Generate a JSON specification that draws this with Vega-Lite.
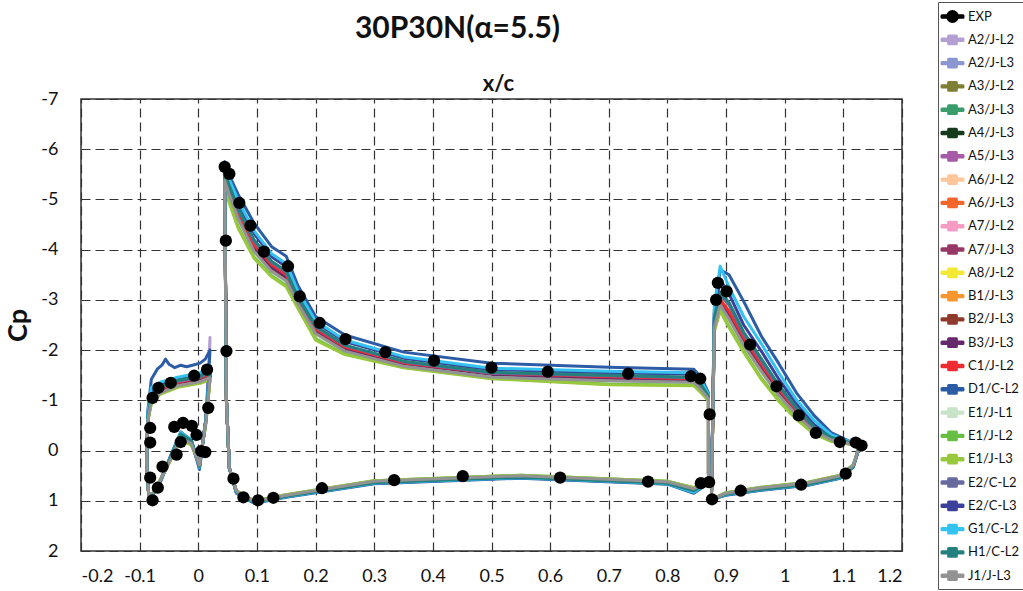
{
"$schema": "https://vega.github.io/schema/vega-lite/v6.json",
"width": 821, "height": 452,
"autosize": {"type": "none"},
"padding": {"left": 81, "top": 99, "right": 121, "bottom": 40},
"background": "white",
"title": {"text": "30P30N(α=5.5)", "font": "Lato", "fontSize": 30, "fontWeight": "bold", "color": "#111", "anchor": "middle", "dx": -34, "offset": -42},
"config": {
 "font": "Lato",
 "view": {"stroke": "#333", "strokeWidth": 1.5},
 "line": {"strokeWidth": 3, "strokeJoin": "round", "strokeCap": "round"},
 "axis": {"grid": true, "gridColor": "#333", "gridDash": [9, 5], "gridWidth": 1.2, "gridOpacity": 1, "domain": false, "ticks": false, "tickSize": 0, "labelFont": "Lato", "labelFontSize": 18, "labelColor": "#111", "titleFont": "Lato", "titleFontWeight": "bold", "titleColor": "#111"},
 "legend": {"padding": 6, "strokeColor": "#555", "fillColor": "white", "labelFont": "Lato", "labelFontSize": 13, "labelColor": "#111", "labelOffset": 7, "symbolSize": 196, "symbolStrokeWidth": 0.5, "rowPadding": 7.3, "symbolOpacity": 1}
},
"encoding": {
 "x": {"field": "x", "type": "quantitative", "scale": {"domain": [-0.2, 1.2], "nice": false, "zero": false}, "axis": {"values": [-0.2,-0.1,0,0.1,0.2,0.3,0.4,0.5,0.6,0.7,0.8,0.9,1,1.1,1.2], "labelExpr": "''+datum.value", "labelPadding": 16, "title": "x/c", "titleFontSize": 22, "titleX": 417, "titleY": -461, "titleBaseline": "alphabetic"}},
 "y": {"field": "y", "type": "quantitative", "scale": {"domain": [-7, 2], "reverse": true, "nice": false, "zero": false}, "axis": {"values": [-7,-6,-5,-4,-3,-2,-1,0,1,2], "labelExpr": "''+datum.value", "labelPadding": 23, "title": "Cp", "titleFontSize": 27, "titlePadding": 8}},
 "detail": {"field": "e"},
 "order": {"value": null}
},
"datasets": {
"A2/J-L2": [
{"e":"s","x":0.02,"y":-2.25},{"e":"s","x":0.018,"y":-1.46},{"e":"s","x":0.003,"y":-1.4},{"e":"s","x":-0.035,"y":-1.32},{"e":"s","x":-0.065,"y":-1.18},{"e":"s","x":-0.08,"y":-1},{"e":"s","x":-0.086,"y":-0.62},{"e":"s","x":-0.088,"y":0.25},{"e":"s","x":-0.084,"y":0.98},{"e":"s","x":-0.068,"y":0.68},{"e":"s","x":-0.048,"y":0.18},{"e":"s","x":-0.03,"y":-0.28},{"e":"s","x":-0.012,"y":-0.16},{"e":"s","x":0.002,"y":0.3},{"e":"s","x":0.013,"y":-0.6},{"e":"s","x":0.02,"y":-2.25},
{"e":"m","x":0.87,"y":-1.05},{"e":"m","x":0.858,"y":-1.24},{"e":"m","x":0.845,"y":-1.4},{"e":"m","x":0.7,"y":-1.44},{"e":"m","x":0.5,"y":-1.5},{"e":"m","x":0.35,"y":-1.72},{"e":"m","x":0.25,"y":-2.02},{"e":"m","x":0.2,"y":-2.38},{"e":"m","x":0.17,"y":-2.96},{"e":"m","x":0.15,"y":-3.45},{"e":"m","x":0.125,"y":-3.65},{"e":"m","x":0.095,"y":-4.05},{"e":"m","x":0.068,"y":-4.7},{"e":"m","x":0.052,"y":-5.2},{"e":"m","x":0.045,"y":-5.42},{"e":"m","x":0.048,"y":-1},{"e":"m","x":0.053,"y":0.35},{"e":"m","x":0.065,"y":0.82},{"e":"m","x":0.095,"y":1.02},{"e":"m","x":0.15,"y":0.9},{"e":"m","x":0.3,"y":0.62},{"e":"m","x":0.55,"y":0.51},{"e":"m","x":0.8,"y":0.63},{"e":"m","x":0.845,"y":0.77},{"e":"m","x":0.87,"y":0.62},{"e":"m","x":0.87,"y":-1.05},
{"e":"f","x":1.128,"y":-0.1},{"e":"f","x":1.11,"y":-0.15},{"e":"f","x":1.08,"y":-0.23},{"e":"f","x":1.05,"y":-0.42},{"e":"f","x":1.02,"y":-0.77},{"e":"f","x":0.99,"y":-1.18},{"e":"f","x":0.96,"y":-1.68},{"e":"f","x":0.93,"y":-2.2},{"e":"f","x":0.905,"y":-2.72},{"e":"f","x":0.89,"y":-2.93},{"e":"f","x":0.88,"y":-2.5},{"e":"f","x":0.875,"y":0.97},{"e":"f","x":0.9,"y":0.86},{"e":"f","x":0.96,"y":0.75},{"e":"f","x":1.04,"y":0.65},{"e":"f","x":1.095,"y":0.51},{"e":"f","x":1.117,"y":0.3},{"e":"f","x":1.128,"y":-0.1}],
"A2/J-L3": [
{"e":"s","x":0.02,"y":-1.48},{"e":"s","x":0.003,"y":-1.4},{"e":"s","x":-0.035,"y":-1.32},{"e":"s","x":-0.065,"y":-1.18},{"e":"s","x":-0.08,"y":-1},{"e":"s","x":-0.086,"y":-0.62},{"e":"s","x":-0.088,"y":0.25},{"e":"s","x":-0.084,"y":0.98},{"e":"s","x":-0.068,"y":0.68},{"e":"s","x":-0.048,"y":0.18},{"e":"s","x":-0.03,"y":-0.28},{"e":"s","x":-0.012,"y":-0.16},{"e":"s","x":0.002,"y":0.3},{"e":"s","x":0.013,"y":-0.6},{"e":"s","x":0.02,"y":-1.48},
{"e":"m","x":0.87,"y":-1.05},{"e":"m","x":0.858,"y":-1.24},{"e":"m","x":0.845,"y":-1.4},{"e":"m","x":0.7,"y":-1.44},{"e":"m","x":0.5,"y":-1.49},{"e":"m","x":0.35,"y":-1.72},{"e":"m","x":0.25,"y":-2.02},{"e":"m","x":0.2,"y":-2.38},{"e":"m","x":0.17,"y":-2.96},{"e":"m","x":0.15,"y":-3.45},{"e":"m","x":0.125,"y":-3.65},{"e":"m","x":0.095,"y":-4.05},{"e":"m","x":0.068,"y":-4.7},{"e":"m","x":0.052,"y":-5.2},{"e":"m","x":0.045,"y":-5.47},{"e":"m","x":0.048,"y":-1},{"e":"m","x":0.053,"y":0.35},{"e":"m","x":0.065,"y":0.82},{"e":"m","x":0.095,"y":1.02},{"e":"m","x":0.15,"y":0.9},{"e":"m","x":0.3,"y":0.62},{"e":"m","x":0.55,"y":0.51},{"e":"m","x":0.8,"y":0.63},{"e":"m","x":0.845,"y":0.77},{"e":"m","x":0.87,"y":0.62},{"e":"m","x":0.87,"y":-1.05},
{"e":"f","x":1.128,"y":-0.1},{"e":"f","x":1.11,"y":-0.15},{"e":"f","x":1.08,"y":-0.23},{"e":"f","x":1.05,"y":-0.42},{"e":"f","x":1.02,"y":-0.77},{"e":"f","x":0.99,"y":-1.18},{"e":"f","x":0.96,"y":-1.68},{"e":"f","x":0.93,"y":-2.2},{"e":"f","x":0.905,"y":-2.72},{"e":"f","x":0.89,"y":-2.96},{"e":"f","x":0.88,"y":-2.5},{"e":"f","x":0.875,"y":0.97},{"e":"f","x":0.9,"y":0.86},{"e":"f","x":0.96,"y":0.75},{"e":"f","x":1.04,"y":0.65},{"e":"f","x":1.095,"y":0.51},{"e":"f","x":1.117,"y":0.3},{"e":"f","x":1.128,"y":-0.1}],
"A3/J-L2": [
{"e":"s","x":0.02,"y":-1.45},{"e":"s","x":0.003,"y":-1.37},{"e":"s","x":-0.035,"y":-1.29},{"e":"s","x":-0.065,"y":-1.15},{"e":"s","x":-0.08,"y":-0.98},{"e":"s","x":-0.086,"y":-0.61},{"e":"s","x":-0.088,"y":0.25},{"e":"s","x":-0.084,"y":0.98},{"e":"s","x":-0.068,"y":0.67},{"e":"s","x":-0.048,"y":0.19},{"e":"s","x":-0.03,"y":-0.25},{"e":"s","x":-0.012,"y":-0.14},{"e":"s","x":0.002,"y":0.29},{"e":"s","x":0.013,"y":-0.58},{"e":"s","x":0.02,"y":-1.45},
{"e":"m","x":0.87,"y":-1.03},{"e":"m","x":0.858,"y":-1.2},{"e":"m","x":0.845,"y":-1.36},{"e":"m","x":0.7,"y":-1.39},{"e":"m","x":0.5,"y":-1.46},{"e":"m","x":0.35,"y":-1.68},{"e":"m","x":0.25,"y":-1.98},{"e":"m","x":0.2,"y":-2.33},{"e":"m","x":0.17,"y":-2.92},{"e":"m","x":0.15,"y":-3.38},{"e":"m","x":0.125,"y":-3.57},{"e":"m","x":0.095,"y":-3.97},{"e":"m","x":0.068,"y":-4.62},{"e":"m","x":0.052,"y":-5.12},{"e":"m","x":0.045,"y":-5.36},{"e":"m","x":0.048,"y":-1},{"e":"m","x":0.053,"y":0.35},{"e":"m","x":0.065,"y":0.81},{"e":"m","x":0.095,"y":1.01},{"e":"m","x":0.15,"y":0.89},{"e":"m","x":0.3,"y":0.61},{"e":"m","x":0.55,"y":0.5},{"e":"m","x":0.8,"y":0.62},{"e":"m","x":0.845,"y":0.76},{"e":"m","x":0.87,"y":0.61},{"e":"m","x":0.87,"y":-1.03},
{"e":"f","x":1.128,"y":-0.1},{"e":"f","x":1.11,"y":-0.14},{"e":"f","x":1.08,"y":-0.21},{"e":"f","x":1.05,"y":-0.38},{"e":"f","x":1.02,"y":-0.71},{"e":"f","x":0.99,"y":-1.1},{"e":"f","x":0.96,"y":-1.58},{"e":"f","x":0.93,"y":-2.1},{"e":"f","x":0.905,"y":-2.62},{"e":"f","x":0.89,"y":-2.88},{"e":"f","x":0.88,"y":-2.45},{"e":"f","x":0.875,"y":0.97},{"e":"f","x":0.9,"y":0.85},{"e":"f","x":0.96,"y":0.74},{"e":"f","x":1.04,"y":0.64},{"e":"f","x":1.095,"y":0.5},{"e":"f","x":1.117,"y":0.29},{"e":"f","x":1.128,"y":-0.1}],
"A3/J-L3": [
{"e":"s","x":0.02,"y":-1.48},{"e":"s","x":0.003,"y":-1.4},{"e":"s","x":-0.035,"y":-1.32},{"e":"s","x":-0.065,"y":-1.18},{"e":"s","x":-0.08,"y":-1},{"e":"s","x":-0.086,"y":-0.62},{"e":"s","x":-0.088,"y":0.25},{"e":"s","x":-0.084,"y":0.98},{"e":"s","x":-0.068,"y":0.68},{"e":"s","x":-0.048,"y":0.18},{"e":"s","x":-0.03,"y":-0.28},{"e":"s","x":-0.012,"y":-0.16},{"e":"s","x":0.002,"y":0.3},{"e":"s","x":0.013,"y":-0.6},{"e":"s","x":0.02,"y":-1.48},
{"e":"m","x":0.87,"y":-1.05},{"e":"m","x":0.858,"y":-1.24},{"e":"m","x":0.845,"y":-1.4},{"e":"m","x":0.7,"y":-1.44},{"e":"m","x":0.5,"y":-1.51},{"e":"m","x":0.35,"y":-1.72},{"e":"m","x":0.25,"y":-2.02},{"e":"m","x":0.2,"y":-2.38},{"e":"m","x":0.17,"y":-2.96},{"e":"m","x":0.15,"y":-3.45},{"e":"m","x":0.125,"y":-3.65},{"e":"m","x":0.095,"y":-4.05},{"e":"m","x":0.068,"y":-4.7},{"e":"m","x":0.052,"y":-5.2},{"e":"m","x":0.045,"y":-5.44},{"e":"m","x":0.048,"y":-1},{"e":"m","x":0.053,"y":0.35},{"e":"m","x":0.065,"y":0.82},{"e":"m","x":0.095,"y":1.02},{"e":"m","x":0.15,"y":0.9},{"e":"m","x":0.3,"y":0.62},{"e":"m","x":0.55,"y":0.51},{"e":"m","x":0.8,"y":0.63},{"e":"m","x":0.845,"y":0.77},{"e":"m","x":0.87,"y":0.62},{"e":"m","x":0.87,"y":-1.05},
{"e":"f","x":1.128,"y":-0.1},{"e":"f","x":1.11,"y":-0.15},{"e":"f","x":1.08,"y":-0.23},{"e":"f","x":1.05,"y":-0.42},{"e":"f","x":1.02,"y":-0.77},{"e":"f","x":0.99,"y":-1.18},{"e":"f","x":0.96,"y":-1.68},{"e":"f","x":0.93,"y":-2.2},{"e":"f","x":0.905,"y":-2.72},{"e":"f","x":0.89,"y":-2.97},{"e":"f","x":0.88,"y":-2.5},{"e":"f","x":0.875,"y":0.97},{"e":"f","x":0.9,"y":0.86},{"e":"f","x":0.96,"y":0.75},{"e":"f","x":1.04,"y":0.65},{"e":"f","x":1.095,"y":0.51},{"e":"f","x":1.117,"y":0.3},{"e":"f","x":1.128,"y":-0.1}],
"A4/J-L3": [
{"e":"s","x":0.02,"y":-1.48},{"e":"s","x":0.003,"y":-1.4},{"e":"s","x":-0.035,"y":-1.32},{"e":"s","x":-0.065,"y":-1.18},{"e":"s","x":-0.08,"y":-1},{"e":"s","x":-0.086,"y":-0.62},{"e":"s","x":-0.088,"y":0.25},{"e":"s","x":-0.084,"y":0.98},{"e":"s","x":-0.068,"y":0.68},{"e":"s","x":-0.048,"y":0.18},{"e":"s","x":-0.03,"y":-0.28},{"e":"s","x":-0.012,"y":-0.16},{"e":"s","x":0.002,"y":0.3},{"e":"s","x":0.013,"y":-0.6},{"e":"s","x":0.02,"y":-1.48},
{"e":"m","x":0.87,"y":-1.05},{"e":"m","x":0.858,"y":-1.24},{"e":"m","x":0.845,"y":-1.4},{"e":"m","x":0.7,"y":-1.44},{"e":"m","x":0.5,"y":-1.5},{"e":"m","x":0.35,"y":-1.72},{"e":"m","x":0.25,"y":-2.02},{"e":"m","x":0.2,"y":-2.38},{"e":"m","x":0.17,"y":-2.96},{"e":"m","x":0.15,"y":-3.45},{"e":"m","x":0.125,"y":-3.65},{"e":"m","x":0.095,"y":-4.05},{"e":"m","x":0.068,"y":-4.7},{"e":"m","x":0.052,"y":-5.2},{"e":"m","x":0.045,"y":-5.46},{"e":"m","x":0.048,"y":-1},{"e":"m","x":0.053,"y":0.35},{"e":"m","x":0.065,"y":0.82},{"e":"m","x":0.095,"y":1.02},{"e":"m","x":0.15,"y":0.9},{"e":"m","x":0.3,"y":0.62},{"e":"m","x":0.55,"y":0.51},{"e":"m","x":0.8,"y":0.63},{"e":"m","x":0.845,"y":0.77},{"e":"m","x":0.87,"y":0.62},{"e":"m","x":0.87,"y":-1.05},
{"e":"f","x":1.128,"y":-0.1},{"e":"f","x":1.11,"y":-0.15},{"e":"f","x":1.08,"y":-0.23},{"e":"f","x":1.05,"y":-0.42},{"e":"f","x":1.02,"y":-0.77},{"e":"f","x":0.99,"y":-1.18},{"e":"f","x":0.96,"y":-1.68},{"e":"f","x":0.93,"y":-2.2},{"e":"f","x":0.905,"y":-2.72},{"e":"f","x":0.89,"y":-2.94},{"e":"f","x":0.88,"y":-2.5},{"e":"f","x":0.875,"y":0.97},{"e":"f","x":0.9,"y":0.86},{"e":"f","x":0.96,"y":0.75},{"e":"f","x":1.04,"y":0.65},{"e":"f","x":1.095,"y":0.51},{"e":"f","x":1.117,"y":0.3},{"e":"f","x":1.128,"y":-0.1}],
"A5/J-L3": [
{"e":"s","x":0.02,"y":-1.48},{"e":"s","x":0.003,"y":-1.4},{"e":"s","x":-0.035,"y":-1.32},{"e":"s","x":-0.065,"y":-1.18},{"e":"s","x":-0.08,"y":-1},{"e":"s","x":-0.086,"y":-0.62},{"e":"s","x":-0.088,"y":0.25},{"e":"s","x":-0.084,"y":0.98},{"e":"s","x":-0.068,"y":0.68},{"e":"s","x":-0.048,"y":0.18},{"e":"s","x":-0.03,"y":-0.28},{"e":"s","x":-0.012,"y":-0.16},{"e":"s","x":0.002,"y":0.3},{"e":"s","x":0.013,"y":-0.6},{"e":"s","x":0.02,"y":-1.48},
{"e":"m","x":0.87,"y":-1.05},{"e":"m","x":0.858,"y":-1.24},{"e":"m","x":0.845,"y":-1.4},{"e":"m","x":0.7,"y":-1.44},{"e":"m","x":0.5,"y":-1.52},{"e":"m","x":0.35,"y":-1.72},{"e":"m","x":0.25,"y":-2.02},{"e":"m","x":0.2,"y":-2.38},{"e":"m","x":0.17,"y":-2.96},{"e":"m","x":0.15,"y":-3.45},{"e":"m","x":0.125,"y":-3.65},{"e":"m","x":0.095,"y":-4.05},{"e":"m","x":0.068,"y":-4.7},{"e":"m","x":0.052,"y":-5.2},{"e":"m","x":0.045,"y":-5.48},{"e":"m","x":0.048,"y":-1},{"e":"m","x":0.053,"y":0.35},{"e":"m","x":0.065,"y":0.82},{"e":"m","x":0.095,"y":1.02},{"e":"m","x":0.15,"y":0.9},{"e":"m","x":0.3,"y":0.62},{"e":"m","x":0.55,"y":0.51},{"e":"m","x":0.8,"y":0.63},{"e":"m","x":0.845,"y":0.77},{"e":"m","x":0.87,"y":0.62},{"e":"m","x":0.87,"y":-1.05},
{"e":"f","x":1.128,"y":-0.1},{"e":"f","x":1.11,"y":-0.15},{"e":"f","x":1.08,"y":-0.23},{"e":"f","x":1.05,"y":-0.42},{"e":"f","x":1.02,"y":-0.77},{"e":"f","x":0.99,"y":-1.18},{"e":"f","x":0.96,"y":-1.68},{"e":"f","x":0.93,"y":-2.2},{"e":"f","x":0.905,"y":-2.72},{"e":"f","x":0.89,"y":-2.98},{"e":"f","x":0.88,"y":-2.5},{"e":"f","x":0.875,"y":0.97},{"e":"f","x":0.9,"y":0.86},{"e":"f","x":0.96,"y":0.75},{"e":"f","x":1.04,"y":0.65},{"e":"f","x":1.095,"y":0.51},{"e":"f","x":1.117,"y":0.3},{"e":"f","x":1.128,"y":-0.1}],
"A6/J-L2": [
{"e":"s","x":0.02,"y":-1.48},{"e":"s","x":0.003,"y":-1.4},{"e":"s","x":-0.035,"y":-1.32},{"e":"s","x":-0.065,"y":-1.18},{"e":"s","x":-0.08,"y":-1},{"e":"s","x":-0.086,"y":-0.62},{"e":"s","x":-0.088,"y":0.25},{"e":"s","x":-0.084,"y":0.98},{"e":"s","x":-0.068,"y":0.68},{"e":"s","x":-0.048,"y":0.18},{"e":"s","x":-0.03,"y":-0.28},{"e":"s","x":-0.012,"y":-0.16},{"e":"s","x":0.002,"y":0.3},{"e":"s","x":0.013,"y":-0.6},{"e":"s","x":0.02,"y":-1.48},
{"e":"m","x":0.87,"y":-1.05},{"e":"m","x":0.858,"y":-1.24},{"e":"m","x":0.845,"y":-1.4},{"e":"m","x":0.7,"y":-1.44},{"e":"m","x":0.5,"y":-1.5},{"e":"m","x":0.35,"y":-1.72},{"e":"m","x":0.25,"y":-2.02},{"e":"m","x":0.2,"y":-2.38},{"e":"m","x":0.17,"y":-2.96},{"e":"m","x":0.15,"y":-3.45},{"e":"m","x":0.125,"y":-3.65},{"e":"m","x":0.095,"y":-4.05},{"e":"m","x":0.068,"y":-4.7},{"e":"m","x":0.052,"y":-5.2},{"e":"m","x":0.045,"y":-5.43},{"e":"m","x":0.048,"y":-1},{"e":"m","x":0.053,"y":0.35},{"e":"m","x":0.065,"y":0.82},{"e":"m","x":0.095,"y":1.02},{"e":"m","x":0.15,"y":0.9},{"e":"m","x":0.3,"y":0.62},{"e":"m","x":0.55,"y":0.51},{"e":"m","x":0.8,"y":0.63},{"e":"m","x":0.845,"y":0.77},{"e":"m","x":0.87,"y":0.62},{"e":"m","x":0.87,"y":-1.05},
{"e":"f","x":1.128,"y":-0.1},{"e":"f","x":1.11,"y":-0.15},{"e":"f","x":1.08,"y":-0.23},{"e":"f","x":1.05,"y":-0.42},{"e":"f","x":1.02,"y":-0.77},{"e":"f","x":0.99,"y":-1.18},{"e":"f","x":0.96,"y":-1.68},{"e":"f","x":0.93,"y":-2.2},{"e":"f","x":0.905,"y":-2.72},{"e":"f","x":0.89,"y":-2.92},{"e":"f","x":0.88,"y":-2.5},{"e":"f","x":0.875,"y":0.97},{"e":"f","x":0.9,"y":0.86},{"e":"f","x":0.96,"y":0.75},{"e":"f","x":1.04,"y":0.65},{"e":"f","x":1.095,"y":0.51},{"e":"f","x":1.117,"y":0.3},{"e":"f","x":1.128,"y":-0.1}],
"A6/J-L3": [
{"e":"s","x":0.02,"y":-1.52},{"e":"s","x":0.003,"y":-1.45},{"e":"s","x":-0.035,"y":-1.36},{"e":"s","x":-0.065,"y":-1.22},{"e":"s","x":-0.08,"y":-1.04},{"e":"s","x":-0.086,"y":-0.64},{"e":"s","x":-0.088,"y":0.25},{"e":"s","x":-0.084,"y":0.98},{"e":"s","x":-0.068,"y":0.68},{"e":"s","x":-0.048,"y":0.18},{"e":"s","x":-0.03,"y":-0.29},{"e":"s","x":-0.012,"y":-0.17},{"e":"s","x":0.002,"y":0.3},{"e":"s","x":0.013,"y":-0.6},{"e":"s","x":0.02,"y":-1.52},
{"e":"m","x":0.87,"y":-1.06},{"e":"m","x":0.858,"y":-1.27},{"e":"m","x":0.845,"y":-1.43},{"e":"m","x":0.7,"y":-1.47},{"e":"m","x":0.5,"y":-1.53},{"e":"m","x":0.35,"y":-1.75},{"e":"m","x":0.25,"y":-2.06},{"e":"m","x":0.2,"y":-2.42},{"e":"m","x":0.17,"y":-3},{"e":"m","x":0.15,"y":-3.5},{"e":"m","x":0.125,"y":-3.7},{"e":"m","x":0.095,"y":-4.1},{"e":"m","x":0.068,"y":-4.75},{"e":"m","x":0.052,"y":-5.25},{"e":"m","x":0.045,"y":-5.5},{"e":"m","x":0.048,"y":-1},{"e":"m","x":0.053,"y":0.35},{"e":"m","x":0.065,"y":0.82},{"e":"m","x":0.095,"y":1.02},{"e":"m","x":0.15,"y":0.9},{"e":"m","x":0.3,"y":0.62},{"e":"m","x":0.55,"y":0.51},{"e":"m","x":0.8,"y":0.63},{"e":"m","x":0.845,"y":0.77},{"e":"m","x":0.87,"y":0.62},{"e":"m","x":0.87,"y":-1.06},
{"e":"f","x":1.128,"y":-0.1},{"e":"f","x":1.11,"y":-0.15},{"e":"f","x":1.08,"y":-0.24},{"e":"f","x":1.05,"y":-0.44},{"e":"f","x":1.02,"y":-0.8},{"e":"f","x":0.99,"y":-1.22},{"e":"f","x":0.96,"y":-1.72},{"e":"f","x":0.93,"y":-2.25},{"e":"f","x":0.905,"y":-2.77},{"e":"f","x":0.89,"y":-3},{"e":"f","x":0.88,"y":-2.55},{"e":"f","x":0.875,"y":0.97},{"e":"f","x":0.9,"y":0.86},{"e":"f","x":0.96,"y":0.75},{"e":"f","x":1.04,"y":0.65},{"e":"f","x":1.095,"y":0.51},{"e":"f","x":1.117,"y":0.3},{"e":"f","x":1.128,"y":-0.1}],
"A7/J-L2": [
{"e":"s","x":0.02,"y":-1.48},{"e":"s","x":0.003,"y":-1.4},{"e":"s","x":-0.035,"y":-1.32},{"e":"s","x":-0.065,"y":-1.18},{"e":"s","x":-0.08,"y":-1},{"e":"s","x":-0.086,"y":-0.62},{"e":"s","x":-0.088,"y":0.25},{"e":"s","x":-0.084,"y":0.98},{"e":"s","x":-0.068,"y":0.68},{"e":"s","x":-0.048,"y":0.18},{"e":"s","x":-0.03,"y":-0.28},{"e":"s","x":-0.012,"y":-0.16},{"e":"s","x":0.002,"y":0.3},{"e":"s","x":0.013,"y":-0.6},{"e":"s","x":0.02,"y":-1.48},
{"e":"m","x":0.87,"y":-1.05},{"e":"m","x":0.858,"y":-1.24},{"e":"m","x":0.845,"y":-1.4},{"e":"m","x":0.7,"y":-1.44},{"e":"m","x":0.5,"y":-1.5},{"e":"m","x":0.35,"y":-1.73},{"e":"m","x":0.25,"y":-2.02},{"e":"m","x":0.2,"y":-2.38},{"e":"m","x":0.17,"y":-2.96},{"e":"m","x":0.15,"y":-3.45},{"e":"m","x":0.125,"y":-3.65},{"e":"m","x":0.095,"y":-4.05},{"e":"m","x":0.068,"y":-4.7},{"e":"m","x":0.052,"y":-5.2},{"e":"m","x":0.045,"y":-5.45},{"e":"m","x":0.048,"y":-1},{"e":"m","x":0.053,"y":0.35},{"e":"m","x":0.065,"y":0.82},{"e":"m","x":0.095,"y":1.02},{"e":"m","x":0.15,"y":0.9},{"e":"m","x":0.3,"y":0.62},{"e":"m","x":0.55,"y":0.51},{"e":"m","x":0.8,"y":0.63},{"e":"m","x":0.845,"y":0.77},{"e":"m","x":0.87,"y":0.62},{"e":"m","x":0.87,"y":-1.05},
{"e":"f","x":1.128,"y":-0.1},{"e":"f","x":1.11,"y":-0.15},{"e":"f","x":1.08,"y":-0.23},{"e":"f","x":1.05,"y":-0.42},{"e":"f","x":1.02,"y":-0.77},{"e":"f","x":0.99,"y":-1.18},{"e":"f","x":0.96,"y":-1.68},{"e":"f","x":0.93,"y":-2.2},{"e":"f","x":0.905,"y":-2.72},{"e":"f","x":0.89,"y":-2.95},{"e":"f","x":0.88,"y":-2.5},{"e":"f","x":0.875,"y":0.97},{"e":"f","x":0.9,"y":0.86},{"e":"f","x":0.96,"y":0.75},{"e":"f","x":1.04,"y":0.65},{"e":"f","x":1.095,"y":0.51},{"e":"f","x":1.117,"y":0.3},{"e":"f","x":1.128,"y":-0.1}],
"A7/J-L3": [
{"e":"s","x":0.02,"y":-1.48},{"e":"s","x":0.003,"y":-1.4},{"e":"s","x":-0.035,"y":-1.32},{"e":"s","x":-0.065,"y":-1.18},{"e":"s","x":-0.08,"y":-1},{"e":"s","x":-0.086,"y":-0.62},{"e":"s","x":-0.088,"y":0.25},{"e":"s","x":-0.084,"y":0.98},{"e":"s","x":-0.068,"y":0.68},{"e":"s","x":-0.048,"y":0.18},{"e":"s","x":-0.03,"y":-0.28},{"e":"s","x":-0.012,"y":-0.16},{"e":"s","x":0.002,"y":0.3},{"e":"s","x":0.013,"y":-0.6},{"e":"s","x":0.02,"y":-1.48},
{"e":"m","x":0.87,"y":-1.05},{"e":"m","x":0.858,"y":-1.24},{"e":"m","x":0.845,"y":-1.4},{"e":"m","x":0.7,"y":-1.44},{"e":"m","x":0.5,"y":-1.51},{"e":"m","x":0.35,"y":-1.72},{"e":"m","x":0.25,"y":-2.02},{"e":"m","x":0.2,"y":-2.38},{"e":"m","x":0.17,"y":-2.96},{"e":"m","x":0.15,"y":-3.45},{"e":"m","x":0.125,"y":-3.65},{"e":"m","x":0.095,"y":-4.05},{"e":"m","x":0.068,"y":-4.7},{"e":"m","x":0.052,"y":-5.2},{"e":"m","x":0.045,"y":-5.47},{"e":"m","x":0.048,"y":-1},{"e":"m","x":0.053,"y":0.35},{"e":"m","x":0.065,"y":0.82},{"e":"m","x":0.095,"y":1.02},{"e":"m","x":0.15,"y":0.9},{"e":"m","x":0.3,"y":0.62},{"e":"m","x":0.55,"y":0.51},{"e":"m","x":0.8,"y":0.63},{"e":"m","x":0.845,"y":0.77},{"e":"m","x":0.87,"y":0.62},{"e":"m","x":0.87,"y":-1.05},
{"e":"f","x":1.128,"y":-0.1},{"e":"f","x":1.11,"y":-0.15},{"e":"f","x":1.08,"y":-0.23},{"e":"f","x":1.05,"y":-0.42},{"e":"f","x":1.02,"y":-0.77},{"e":"f","x":0.99,"y":-1.18},{"e":"f","x":0.96,"y":-1.68},{"e":"f","x":0.93,"y":-2.2},{"e":"f","x":0.905,"y":-2.72},{"e":"f","x":0.89,"y":-2.97},{"e":"f","x":0.88,"y":-2.5},{"e":"f","x":0.875,"y":0.97},{"e":"f","x":0.9,"y":0.86},{"e":"f","x":0.96,"y":0.75},{"e":"f","x":1.04,"y":0.65},{"e":"f","x":1.095,"y":0.51},{"e":"f","x":1.117,"y":0.3},{"e":"f","x":1.128,"y":-0.1}],
"A8/J-L2": [
{"e":"s","x":0.02,"y":-1.45},{"e":"s","x":0.003,"y":-1.37},{"e":"s","x":-0.035,"y":-1.29},{"e":"s","x":-0.065,"y":-1.15},{"e":"s","x":-0.08,"y":-0.98},{"e":"s","x":-0.086,"y":-0.61},{"e":"s","x":-0.088,"y":0.25},{"e":"s","x":-0.084,"y":0.98},{"e":"s","x":-0.068,"y":0.67},{"e":"s","x":-0.048,"y":0.19},{"e":"s","x":-0.03,"y":-0.25},{"e":"s","x":-0.012,"y":-0.14},{"e":"s","x":0.002,"y":0.29},{"e":"s","x":0.013,"y":-0.58},{"e":"s","x":0.02,"y":-1.45},
{"e":"m","x":0.87,"y":-1.03},{"e":"m","x":0.858,"y":-1.2},{"e":"m","x":0.845,"y":-1.36},{"e":"m","x":0.7,"y":-1.39},{"e":"m","x":0.5,"y":-1.45},{"e":"m","x":0.35,"y":-1.68},{"e":"m","x":0.25,"y":-1.98},{"e":"m","x":0.2,"y":-2.33},{"e":"m","x":0.17,"y":-2.92},{"e":"m","x":0.15,"y":-3.38},{"e":"m","x":0.125,"y":-3.57},{"e":"m","x":0.095,"y":-3.97},{"e":"m","x":0.068,"y":-4.62},{"e":"m","x":0.052,"y":-5.12},{"e":"m","x":0.045,"y":-5.34},{"e":"m","x":0.048,"y":-1},{"e":"m","x":0.053,"y":0.35},{"e":"m","x":0.065,"y":0.81},{"e":"m","x":0.095,"y":1.01},{"e":"m","x":0.15,"y":0.89},{"e":"m","x":0.3,"y":0.61},{"e":"m","x":0.55,"y":0.5},{"e":"m","x":0.8,"y":0.62},{"e":"m","x":0.845,"y":0.76},{"e":"m","x":0.87,"y":0.61},{"e":"m","x":0.87,"y":-1.03},
{"e":"f","x":1.128,"y":-0.1},{"e":"f","x":1.11,"y":-0.14},{"e":"f","x":1.08,"y":-0.21},{"e":"f","x":1.05,"y":-0.38},{"e":"f","x":1.02,"y":-0.71},{"e":"f","x":0.99,"y":-1.1},{"e":"f","x":0.96,"y":-1.58},{"e":"f","x":0.93,"y":-2.1},{"e":"f","x":0.905,"y":-2.62},{"e":"f","x":0.89,"y":-2.86},{"e":"f","x":0.88,"y":-2.45},{"e":"f","x":0.875,"y":0.97},{"e":"f","x":0.9,"y":0.85},{"e":"f","x":0.96,"y":0.74},{"e":"f","x":1.04,"y":0.64},{"e":"f","x":1.095,"y":0.5},{"e":"f","x":1.117,"y":0.29},{"e":"f","x":1.128,"y":-0.1}],
"B1/J-L3": [
{"e":"s","x":0.02,"y":-1.52},{"e":"s","x":0.003,"y":-1.45},{"e":"s","x":-0.035,"y":-1.36},{"e":"s","x":-0.065,"y":-1.22},{"e":"s","x":-0.08,"y":-1.04},{"e":"s","x":-0.086,"y":-0.64},{"e":"s","x":-0.088,"y":0.25},{"e":"s","x":-0.084,"y":0.98},{"e":"s","x":-0.068,"y":0.68},{"e":"s","x":-0.048,"y":0.18},{"e":"s","x":-0.03,"y":-0.29},{"e":"s","x":-0.012,"y":-0.17},{"e":"s","x":0.002,"y":0.3},{"e":"s","x":0.013,"y":-0.6},{"e":"s","x":0.02,"y":-1.52},
{"e":"m","x":0.87,"y":-1.06},{"e":"m","x":0.858,"y":-1.27},{"e":"m","x":0.845,"y":-1.43},{"e":"m","x":0.7,"y":-1.47},{"e":"m","x":0.5,"y":-1.53},{"e":"m","x":0.35,"y":-1.75},{"e":"m","x":0.25,"y":-2.06},{"e":"m","x":0.2,"y":-2.42},{"e":"m","x":0.17,"y":-3},{"e":"m","x":0.15,"y":-3.5},{"e":"m","x":0.125,"y":-3.7},{"e":"m","x":0.095,"y":-4.1},{"e":"m","x":0.068,"y":-4.75},{"e":"m","x":0.052,"y":-5.25},{"e":"m","x":0.045,"y":-5.52},{"e":"m","x":0.048,"y":-1},{"e":"m","x":0.053,"y":0.35},{"e":"m","x":0.065,"y":0.82},{"e":"m","x":0.095,"y":1.02},{"e":"m","x":0.15,"y":0.9},{"e":"m","x":0.3,"y":0.62},{"e":"m","x":0.55,"y":0.51},{"e":"m","x":0.8,"y":0.63},{"e":"m","x":0.845,"y":0.77},{"e":"m","x":0.87,"y":0.62},{"e":"m","x":0.87,"y":-1.06},
{"e":"f","x":1.128,"y":-0.1},{"e":"f","x":1.11,"y":-0.15},{"e":"f","x":1.08,"y":-0.24},{"e":"f","x":1.05,"y":-0.44},{"e":"f","x":1.02,"y":-0.8},{"e":"f","x":0.99,"y":-1.22},{"e":"f","x":0.96,"y":-1.72},{"e":"f","x":0.93,"y":-2.25},{"e":"f","x":0.905,"y":-2.77},{"e":"f","x":0.89,"y":-3.02},{"e":"f","x":0.88,"y":-2.55},{"e":"f","x":0.875,"y":0.97},{"e":"f","x":0.9,"y":0.86},{"e":"f","x":0.96,"y":0.75},{"e":"f","x":1.04,"y":0.65},{"e":"f","x":1.095,"y":0.51},{"e":"f","x":1.117,"y":0.3},{"e":"f","x":1.128,"y":-0.1}],
"B2/J-L3": [
{"e":"s","x":0.02,"y":-1.48},{"e":"s","x":0.003,"y":-1.4},{"e":"s","x":-0.035,"y":-1.32},{"e":"s","x":-0.065,"y":-1.18},{"e":"s","x":-0.08,"y":-1},{"e":"s","x":-0.086,"y":-0.62},{"e":"s","x":-0.088,"y":0.25},{"e":"s","x":-0.084,"y":0.98},{"e":"s","x":-0.068,"y":0.68},{"e":"s","x":-0.048,"y":0.18},{"e":"s","x":-0.03,"y":-0.28},{"e":"s","x":-0.012,"y":-0.16},{"e":"s","x":0.002,"y":0.3},{"e":"s","x":0.013,"y":-0.6},{"e":"s","x":0.02,"y":-1.48},
{"e":"m","x":0.87,"y":-1.05},{"e":"m","x":0.858,"y":-1.24},{"e":"m","x":0.845,"y":-1.4},{"e":"m","x":0.7,"y":-1.44},{"e":"m","x":0.5,"y":-1.5},{"e":"m","x":0.35,"y":-1.72},{"e":"m","x":0.25,"y":-2.02},{"e":"m","x":0.2,"y":-2.38},{"e":"m","x":0.17,"y":-2.96},{"e":"m","x":0.15,"y":-3.45},{"e":"m","x":0.125,"y":-3.65},{"e":"m","x":0.095,"y":-4.05},{"e":"m","x":0.068,"y":-4.7},{"e":"m","x":0.052,"y":-5.2},{"e":"m","x":0.045,"y":-5.46},{"e":"m","x":0.048,"y":-1},{"e":"m","x":0.053,"y":0.35},{"e":"m","x":0.065,"y":0.82},{"e":"m","x":0.095,"y":1.02},{"e":"m","x":0.15,"y":0.9},{"e":"m","x":0.3,"y":0.62},{"e":"m","x":0.55,"y":0.51},{"e":"m","x":0.8,"y":0.63},{"e":"m","x":0.845,"y":0.77},{"e":"m","x":0.87,"y":0.62},{"e":"m","x":0.87,"y":-1.05},
{"e":"f","x":1.128,"y":-0.1},{"e":"f","x":1.11,"y":-0.15},{"e":"f","x":1.08,"y":-0.23},{"e":"f","x":1.05,"y":-0.42},{"e":"f","x":1.02,"y":-0.77},{"e":"f","x":0.99,"y":-1.18},{"e":"f","x":0.96,"y":-1.68},{"e":"f","x":0.93,"y":-2.2},{"e":"f","x":0.905,"y":-2.72},{"e":"f","x":0.89,"y":-2.96},{"e":"f","x":0.88,"y":-2.5},{"e":"f","x":0.875,"y":0.97},{"e":"f","x":0.9,"y":0.86},{"e":"f","x":0.96,"y":0.75},{"e":"f","x":1.04,"y":0.65},{"e":"f","x":1.095,"y":0.51},{"e":"f","x":1.117,"y":0.3},{"e":"f","x":1.128,"y":-0.1}],
"B3/J-L3": [
{"e":"s","x":0.02,"y":-1.48},{"e":"s","x":0.003,"y":-1.4},{"e":"s","x":-0.035,"y":-1.32},{"e":"s","x":-0.065,"y":-1.18},{"e":"s","x":-0.08,"y":-1},{"e":"s","x":-0.086,"y":-0.62},{"e":"s","x":-0.088,"y":0.25},{"e":"s","x":-0.084,"y":0.98},{"e":"s","x":-0.068,"y":0.68},{"e":"s","x":-0.048,"y":0.18},{"e":"s","x":-0.03,"y":-0.28},{"e":"s","x":-0.012,"y":-0.16},{"e":"s","x":0.002,"y":0.3},{"e":"s","x":0.013,"y":-0.6},{"e":"s","x":0.02,"y":-1.48},
{"e":"m","x":0.87,"y":-1.05},{"e":"m","x":0.858,"y":-1.24},{"e":"m","x":0.845,"y":-1.4},{"e":"m","x":0.7,"y":-1.44},{"e":"m","x":0.5,"y":-1.5},{"e":"m","x":0.35,"y":-1.72},{"e":"m","x":0.25,"y":-2.02},{"e":"m","x":0.2,"y":-2.38},{"e":"m","x":0.17,"y":-2.96},{"e":"m","x":0.15,"y":-3.45},{"e":"m","x":0.125,"y":-3.65},{"e":"m","x":0.095,"y":-4.05},{"e":"m","x":0.068,"y":-4.7},{"e":"m","x":0.052,"y":-5.2},{"e":"m","x":0.045,"y":-5.44},{"e":"m","x":0.048,"y":-1},{"e":"m","x":0.053,"y":0.35},{"e":"m","x":0.065,"y":0.82},{"e":"m","x":0.095,"y":1.02},{"e":"m","x":0.15,"y":0.9},{"e":"m","x":0.3,"y":0.62},{"e":"m","x":0.55,"y":0.51},{"e":"m","x":0.8,"y":0.63},{"e":"m","x":0.845,"y":0.77},{"e":"m","x":0.87,"y":0.62},{"e":"m","x":0.87,"y":-1.05},
{"e":"f","x":1.128,"y":-0.1},{"e":"f","x":1.11,"y":-0.15},{"e":"f","x":1.08,"y":-0.23},{"e":"f","x":1.05,"y":-0.42},{"e":"f","x":1.02,"y":-0.77},{"e":"f","x":0.99,"y":-1.18},{"e":"f","x":0.96,"y":-1.68},{"e":"f","x":0.93,"y":-2.2},{"e":"f","x":0.905,"y":-2.72},{"e":"f","x":0.89,"y":-2.94},{"e":"f","x":0.88,"y":-2.5},{"e":"f","x":0.875,"y":0.97},{"e":"f","x":0.9,"y":0.86},{"e":"f","x":0.96,"y":0.75},{"e":"f","x":1.04,"y":0.65},{"e":"f","x":1.095,"y":0.51},{"e":"f","x":1.117,"y":0.3},{"e":"f","x":1.128,"y":-0.1}],
"C1/J-L2": [
{"e":"s","x":0.02,"y":-1.52},{"e":"s","x":0.003,"y":-1.45},{"e":"s","x":-0.035,"y":-1.36},{"e":"s","x":-0.065,"y":-1.22},{"e":"s","x":-0.08,"y":-1.04},{"e":"s","x":-0.086,"y":-0.64},{"e":"s","x":-0.088,"y":0.25},{"e":"s","x":-0.084,"y":0.98},{"e":"s","x":-0.068,"y":0.68},{"e":"s","x":-0.048,"y":0.18},{"e":"s","x":-0.03,"y":-0.29},{"e":"s","x":-0.012,"y":-0.17},{"e":"s","x":0.002,"y":0.3},{"e":"s","x":0.013,"y":-0.6},{"e":"s","x":0.02,"y":-1.52},
{"e":"m","x":0.87,"y":-1.06},{"e":"m","x":0.858,"y":-1.27},{"e":"m","x":0.845,"y":-1.43},{"e":"m","x":0.7,"y":-1.47},{"e":"m","x":0.5,"y":-1.54},{"e":"m","x":0.35,"y":-1.75},{"e":"m","x":0.25,"y":-2.06},{"e":"m","x":0.2,"y":-2.42},{"e":"m","x":0.17,"y":-3},{"e":"m","x":0.15,"y":-3.5},{"e":"m","x":0.125,"y":-3.7},{"e":"m","x":0.095,"y":-4.1},{"e":"m","x":0.068,"y":-4.75},{"e":"m","x":0.052,"y":-5.25},{"e":"m","x":0.045,"y":-5.5},{"e":"m","x":0.048,"y":-1},{"e":"m","x":0.053,"y":0.35},{"e":"m","x":0.065,"y":0.82},{"e":"m","x":0.095,"y":1.02},{"e":"m","x":0.15,"y":0.9},{"e":"m","x":0.3,"y":0.62},{"e":"m","x":0.55,"y":0.51},{"e":"m","x":0.8,"y":0.63},{"e":"m","x":0.845,"y":0.77},{"e":"m","x":0.87,"y":0.62},{"e":"m","x":0.87,"y":-1.06},
{"e":"f","x":1.128,"y":-0.1},{"e":"f","x":1.11,"y":-0.15},{"e":"f","x":1.08,"y":-0.24},{"e":"f","x":1.05,"y":-0.44},{"e":"f","x":1.02,"y":-0.8},{"e":"f","x":0.99,"y":-1.22},{"e":"f","x":0.96,"y":-1.72},{"e":"f","x":0.93,"y":-2.25},{"e":"f","x":0.905,"y":-2.77},{"e":"f","x":0.89,"y":-3},{"e":"f","x":0.88,"y":-2.55},{"e":"f","x":0.875,"y":0.97},{"e":"f","x":0.9,"y":0.86},{"e":"f","x":0.96,"y":0.75},{"e":"f","x":1.04,"y":0.65},{"e":"f","x":1.095,"y":0.51},{"e":"f","x":1.117,"y":0.3},{"e":"f","x":1.128,"y":-0.1}],
"D1/C-L2": [
{"e":"s","x":0.02,"y":-2},{"e":"s","x":0.012,"y":-1.82},{"e":"s","x":0.003,"y":-1.74},{"e":"s","x":-0.01,"y":-1.7},{"e":"s","x":-0.02,"y":-1.67},{"e":"s","x":-0.03,"y":-1.7},{"e":"s","x":-0.04,"y":-1.65},{"e":"s","x":-0.05,"y":-1.72},{"e":"s","x":-0.056,"y":-1.82},{"e":"s","x":-0.062,"y":-1.7},{"e":"s","x":-0.07,"y":-1.62},{"e":"s","x":-0.08,"y":-1.42},{"e":"s","x":-0.086,"y":-0.8},{"e":"s","x":-0.088,"y":0.25},{"e":"s","x":-0.084,"y":0.98},{"e":"s","x":-0.068,"y":0.73},{"e":"s","x":-0.048,"y":0.13},{"e":"s","x":-0.03,"y":-0.37},{"e":"s","x":-0.012,"y":-0.2},{"e":"s","x":0.002,"y":0.38},{"e":"s","x":0.013,"y":-0.62},{"e":"s","x":0.02,"y":-2},
{"e":"m","x":0.87,"y":-1.15},{"e":"m","x":0.858,"y":-1.45},{"e":"m","x":0.845,"y":-1.62},{"e":"m","x":0.7,"y":-1.66},{"e":"m","x":0.5,"y":-1.74},{"e":"m","x":0.35,"y":-1.96},{"e":"m","x":0.25,"y":-2.3},{"e":"m","x":0.2,"y":-2.67},{"e":"m","x":0.17,"y":-3.28},{"e":"m","x":0.15,"y":-3.87},{"e":"m","x":0.125,"y":-4.06},{"e":"m","x":0.095,"y":-4.53},{"e":"m","x":0.068,"y":-5.1},{"e":"m","x":0.052,"y":-5.5},{"e":"m","x":0.045,"y":-5.75},{"e":"m","x":0.048,"y":-1},{"e":"m","x":0.053,"y":0.35},{"e":"m","x":0.065,"y":0.85},{"e":"m","x":0.095,"y":1.05},{"e":"m","x":0.15,"y":0.93},{"e":"m","x":0.3,"y":0.66},{"e":"m","x":0.55,"y":0.55},{"e":"m","x":0.8,"y":0.67},{"e":"m","x":0.845,"y":0.85},{"e":"m","x":0.87,"y":0.65},{"e":"m","x":0.87,"y":-1.15},
{"e":"f","x":1.128,"y":-0.09},{"e":"f","x":1.11,"y":-0.19},{"e":"f","x":1.08,"y":-0.35},{"e":"f","x":1.05,"y":-0.7},{"e":"f","x":1.02,"y":-1.15},{"e":"f","x":0.99,"y":-1.73},{"e":"f","x":0.96,"y":-2.28},{"e":"f","x":0.93,"y":-2.97},{"e":"f","x":0.905,"y":-3.5},{"e":"f","x":0.89,"y":-3.6},{"e":"f","x":0.88,"y":-2.8},{"e":"f","x":0.875,"y":0.97},{"e":"f","x":0.9,"y":0.89},{"e":"f","x":0.96,"y":0.79},{"e":"f","x":1.04,"y":0.69},{"e":"f","x":1.095,"y":0.55},{"e":"f","x":1.117,"y":0.33},{"e":"f","x":1.128,"y":-0.09}],
"E1/J-L1": [
{"e":"s","x":0.02,"y":-1.43},{"e":"s","x":0.003,"y":-1.36},{"e":"s","x":-0.035,"y":-1.28},{"e":"s","x":-0.065,"y":-1.14},{"e":"s","x":-0.08,"y":-0.96},{"e":"s","x":-0.086,"y":-0.6},{"e":"s","x":-0.088,"y":0.25},{"e":"s","x":-0.084,"y":0.98},{"e":"s","x":-0.068,"y":0.66},{"e":"s","x":-0.048,"y":0.2},{"e":"s","x":-0.03,"y":-0.23},{"e":"s","x":-0.012,"y":-0.13},{"e":"s","x":0.002,"y":0.28},{"e":"s","x":0.013,"y":-0.56},{"e":"s","x":0.02,"y":-1.43},
{"e":"m","x":0.87,"y":-1.01},{"e":"m","x":0.858,"y":-1.16},{"e":"m","x":0.845,"y":-1.31},{"e":"m","x":0.7,"y":-1.34},{"e":"m","x":0.5,"y":-1.46},{"e":"m","x":0.35,"y":-1.67},{"e":"m","x":0.25,"y":-1.94},{"e":"m","x":0.2,"y":-2.25},{"e":"m","x":0.17,"y":-2.87},{"e":"m","x":0.15,"y":-3.31},{"e":"m","x":0.125,"y":-3.51},{"e":"m","x":0.095,"y":-3.88},{"e":"m","x":0.068,"y":-4.49},{"e":"m","x":0.052,"y":-5.02},{"e":"m","x":0.045,"y":-5.24},{"e":"m","x":0.048,"y":-1},{"e":"m","x":0.053,"y":0.35},{"e":"m","x":0.065,"y":0.8},{"e":"m","x":0.095,"y":1},{"e":"m","x":0.15,"y":0.88},{"e":"m","x":0.3,"y":0.6},{"e":"m","x":0.55,"y":0.49},{"e":"m","x":0.8,"y":0.61},{"e":"m","x":0.845,"y":0.74},{"e":"m","x":0.87,"y":0.6},{"e":"m","x":0.87,"y":-1.01},
{"e":"f","x":1.128,"y":-0.1},{"e":"f","x":1.11,"y":-0.13},{"e":"f","x":1.08,"y":-0.19},{"e":"f","x":1.05,"y":-0.35},{"e":"f","x":1.02,"y":-0.65},{"e":"f","x":0.99,"y":-1.02},{"e":"f","x":0.96,"y":-1.46},{"e":"f","x":0.93,"y":-2},{"e":"f","x":0.905,"y":-2.5},{"e":"f","x":0.89,"y":-2.84},{"e":"f","x":0.88,"y":-2.42},{"e":"f","x":0.875,"y":0.97},{"e":"f","x":0.9,"y":0.84},{"e":"f","x":0.96,"y":0.73},{"e":"f","x":1.04,"y":0.63},{"e":"f","x":1.095,"y":0.49},{"e":"f","x":1.117,"y":0.28},{"e":"f","x":1.128,"y":-0.1}],
"E1/J-L2": [
{"e":"s","x":0.02,"y":-1.42},{"e":"s","x":0.003,"y":-1.35},{"e":"s","x":-0.035,"y":-1.27},{"e":"s","x":-0.065,"y":-1.13},{"e":"s","x":-0.08,"y":-0.95},{"e":"s","x":-0.086,"y":-0.6},{"e":"s","x":-0.088,"y":0.25},{"e":"s","x":-0.084,"y":0.98},{"e":"s","x":-0.068,"y":0.66},{"e":"s","x":-0.048,"y":0.2},{"e":"s","x":-0.03,"y":-0.22},{"e":"s","x":-0.012,"y":-0.12},{"e":"s","x":0.002,"y":0.28},{"e":"s","x":0.013,"y":-0.55},{"e":"s","x":0.02,"y":-1.42},
{"e":"m","x":0.87,"y":-1},{"e":"m","x":0.858,"y":-1.15},{"e":"m","x":0.845,"y":-1.3},{"e":"m","x":0.7,"y":-1.32},{"e":"m","x":0.5,"y":-1.44},{"e":"m","x":0.35,"y":-1.66},{"e":"m","x":0.25,"y":-1.92},{"e":"m","x":0.2,"y":-2.22},{"e":"m","x":0.17,"y":-2.85},{"e":"m","x":0.15,"y":-3.28},{"e":"m","x":0.125,"y":-3.48},{"e":"m","x":0.095,"y":-3.85},{"e":"m","x":0.068,"y":-4.45},{"e":"m","x":0.052,"y":-4.98},{"e":"m","x":0.045,"y":-5.2},{"e":"m","x":0.048,"y":-1},{"e":"m","x":0.053,"y":0.35},{"e":"m","x":0.065,"y":0.8},{"e":"m","x":0.095,"y":1},{"e":"m","x":0.15,"y":0.88},{"e":"m","x":0.3,"y":0.6},{"e":"m","x":0.55,"y":0.49},{"e":"m","x":0.8,"y":0.61},{"e":"m","x":0.845,"y":0.74},{"e":"m","x":0.87,"y":0.6},{"e":"m","x":0.87,"y":-1},
{"e":"f","x":1.128,"y":-0.1},{"e":"f","x":1.11,"y":-0.13},{"e":"f","x":1.08,"y":-0.19},{"e":"f","x":1.05,"y":-0.34},{"e":"f","x":1.02,"y":-0.64},{"e":"f","x":0.99,"y":-1},{"e":"f","x":0.96,"y":-1.44},{"e":"f","x":0.93,"y":-1.98},{"e":"f","x":0.905,"y":-2.47},{"e":"f","x":0.89,"y":-2.8},{"e":"f","x":0.88,"y":-2.4},{"e":"f","x":0.875,"y":0.97},{"e":"f","x":0.9,"y":0.84},{"e":"f","x":0.96,"y":0.73},{"e":"f","x":1.04,"y":0.63},{"e":"f","x":1.095,"y":0.49},{"e":"f","x":1.117,"y":0.28},{"e":"f","x":1.128,"y":-0.1}],
"E1/J-L3": [
{"e":"s","x":0.02,"y":-1.41},{"e":"s","x":0.003,"y":-1.34},{"e":"s","x":-0.035,"y":-1.26},{"e":"s","x":-0.065,"y":-1.12},{"e":"s","x":-0.08,"y":-0.94},{"e":"s","x":-0.086,"y":-0.59},{"e":"s","x":-0.088,"y":0.25},{"e":"s","x":-0.084,"y":0.98},{"e":"s","x":-0.068,"y":0.65},{"e":"s","x":-0.048,"y":0.21},{"e":"s","x":-0.03,"y":-0.21},{"e":"s","x":-0.012,"y":-0.11},{"e":"s","x":0.002,"y":0.27},{"e":"s","x":0.013,"y":-0.54},{"e":"s","x":0.02,"y":-1.41},
{"e":"m","x":0.87,"y":-0.99},{"e":"m","x":0.858,"y":-1.14},{"e":"m","x":0.845,"y":-1.29},{"e":"m","x":0.7,"y":-1.31},{"e":"m","x":0.5,"y":-1.43},{"e":"m","x":0.35,"y":-1.65},{"e":"m","x":0.25,"y":-1.91},{"e":"m","x":0.2,"y":-2.2},{"e":"m","x":0.17,"y":-2.83},{"e":"m","x":0.15,"y":-3.26},{"e":"m","x":0.125,"y":-3.46},{"e":"m","x":0.095,"y":-3.83},{"e":"m","x":0.068,"y":-4.43},{"e":"m","x":0.052,"y":-4.96},{"e":"m","x":0.045,"y":-5.18},{"e":"m","x":0.048,"y":-1},{"e":"m","x":0.053,"y":0.35},{"e":"m","x":0.065,"y":0.8},{"e":"m","x":0.095,"y":1},{"e":"m","x":0.15,"y":0.88},{"e":"m","x":0.3,"y":0.6},{"e":"m","x":0.55,"y":0.49},{"e":"m","x":0.8,"y":0.61},{"e":"m","x":0.845,"y":0.74},{"e":"m","x":0.87,"y":0.6},{"e":"m","x":0.87,"y":-0.99},
{"e":"f","x":1.128,"y":-0.1},{"e":"f","x":1.11,"y":-0.13},{"e":"f","x":1.08,"y":-0.18},{"e":"f","x":1.05,"y":-0.33},{"e":"f","x":1.02,"y":-0.62},{"e":"f","x":0.99,"y":-0.98},{"e":"f","x":0.96,"y":-1.42},{"e":"f","x":0.93,"y":-1.96},{"e":"f","x":0.905,"y":-2.45},{"e":"f","x":0.89,"y":-2.78},{"e":"f","x":0.88,"y":-2.38},{"e":"f","x":0.875,"y":0.97},{"e":"f","x":0.9,"y":0.84},{"e":"f","x":0.96,"y":0.73},{"e":"f","x":1.04,"y":0.63},{"e":"f","x":1.095,"y":0.49},{"e":"f","x":1.117,"y":0.28},{"e":"f","x":1.128,"y":-0.1}],
"E2/C-L2": [
{"e":"s","x":0.02,"y":-1.55},{"e":"s","x":0.003,"y":-1.46},{"e":"s","x":-0.035,"y":-1.38},{"e":"s","x":-0.065,"y":-1.25},{"e":"s","x":-0.08,"y":-1.08},{"e":"s","x":-0.086,"y":-0.65},{"e":"s","x":-0.088,"y":0.25},{"e":"s","x":-0.084,"y":0.98},{"e":"s","x":-0.068,"y":0.7},{"e":"s","x":-0.048,"y":0.15},{"e":"s","x":-0.03,"y":-0.32},{"e":"s","x":-0.012,"y":-0.19},{"e":"s","x":0.002,"y":0.32},{"e":"s","x":0.013,"y":-0.61},{"e":"s","x":0.02,"y":-1.55},
{"e":"m","x":0.87,"y":-1.07},{"e":"m","x":0.858,"y":-1.29},{"e":"m","x":0.845,"y":-1.45},{"e":"m","x":0.7,"y":-1.49},{"e":"m","x":0.5,"y":-1.54},{"e":"m","x":0.35,"y":-1.77},{"e":"m","x":0.25,"y":-2.09},{"e":"m","x":0.2,"y":-2.46},{"e":"m","x":0.17,"y":-3.03},{"e":"m","x":0.15,"y":-3.55},{"e":"m","x":0.125,"y":-3.75},{"e":"m","x":0.095,"y":-4.17},{"e":"m","x":0.068,"y":-4.8},{"e":"m","x":0.052,"y":-5.28},{"e":"m","x":0.045,"y":-5.52},{"e":"m","x":0.048,"y":-1},{"e":"m","x":0.053,"y":0.35},{"e":"m","x":0.065,"y":0.83},{"e":"m","x":0.095,"y":1.03},{"e":"m","x":0.15,"y":0.91},{"e":"m","x":0.3,"y":0.64},{"e":"m","x":0.55,"y":0.53},{"e":"m","x":0.8,"y":0.65},{"e":"m","x":0.845,"y":0.8},{"e":"m","x":0.87,"y":0.63},{"e":"m","x":0.87,"y":-1.07},
{"e":"f","x":1.128,"y":-0.1},{"e":"f","x":1.11,"y":-0.16},{"e":"f","x":1.08,"y":-0.25},{"e":"f","x":1.05,"y":-0.46},{"e":"f","x":1.02,"y":-0.83},{"e":"f","x":0.99,"y":-1.27},{"e":"f","x":0.96,"y":-1.79},{"e":"f","x":0.93,"y":-2.32},{"e":"f","x":0.905,"y":-2.9},{"e":"f","x":0.89,"y":-3.1},{"e":"f","x":0.88,"y":-2.62},{"e":"f","x":0.875,"y":0.97},{"e":"f","x":0.9,"y":0.87},{"e":"f","x":0.96,"y":0.77},{"e":"f","x":1.04,"y":0.67},{"e":"f","x":1.095,"y":0.53},{"e":"f","x":1.117,"y":0.31},{"e":"f","x":1.128,"y":-0.1}],
"E2/C-L3": [
{"e":"s","x":0.02,"y":-1.62},{"e":"s","x":0.003,"y":-1.52},{"e":"s","x":-0.035,"y":-1.44},{"e":"s","x":-0.065,"y":-1.32},{"e":"s","x":-0.08,"y":-1.18},{"e":"s","x":-0.086,"y":-0.7},{"e":"s","x":-0.088,"y":0.25},{"e":"s","x":-0.084,"y":0.98},{"e":"s","x":-0.068,"y":0.7},{"e":"s","x":-0.048,"y":0.14},{"e":"s","x":-0.03,"y":-0.35},{"e":"s","x":-0.012,"y":-0.21},{"e":"s","x":0.002,"y":0.33},{"e":"s","x":0.013,"y":-0.63},{"e":"s","x":0.02,"y":-1.62},
{"e":"m","x":0.87,"y":-1.1},{"e":"m","x":0.858,"y":-1.35},{"e":"m","x":0.845,"y":-1.52},{"e":"m","x":0.7,"y":-1.55},{"e":"m","x":0.5,"y":-1.61},{"e":"m","x":0.35,"y":-1.84},{"e":"m","x":0.25,"y":-2.17},{"e":"m","x":0.2,"y":-2.55},{"e":"m","x":0.17,"y":-3.12},{"e":"m","x":0.15,"y":-3.66},{"e":"m","x":0.125,"y":-3.86},{"e":"m","x":0.095,"y":-4.32},{"e":"m","x":0.068,"y":-4.92},{"e":"m","x":0.052,"y":-5.36},{"e":"m","x":0.045,"y":-5.6},{"e":"m","x":0.048,"y":-1},{"e":"m","x":0.053,"y":0.35},{"e":"m","x":0.065,"y":0.84},{"e":"m","x":0.095,"y":1.04},{"e":"m","x":0.15,"y":0.92},{"e":"m","x":0.3,"y":0.65},{"e":"m","x":0.55,"y":0.54},{"e":"m","x":0.8,"y":0.66},{"e":"m","x":0.845,"y":0.82},{"e":"m","x":0.87,"y":0.64},{"e":"m","x":0.87,"y":-1.1},
{"e":"f","x":1.128,"y":-0.1},{"e":"f","x":1.11,"y":-0.17},{"e":"f","x":1.08,"y":-0.28},{"e":"f","x":1.05,"y":-0.52},{"e":"f","x":1.02,"y":-0.93},{"e":"f","x":0.99,"y":-1.42},{"e":"f","x":0.96,"y":-1.98},{"e":"f","x":0.93,"y":-2.5},{"e":"f","x":0.905,"y":-3.12},{"e":"f","x":0.89,"y":-3.4},{"e":"f","x":0.88,"y":-2.75},{"e":"f","x":0.875,"y":0.97},{"e":"f","x":0.9,"y":0.88},{"e":"f","x":0.96,"y":0.78},{"e":"f","x":1.04,"y":0.68},{"e":"f","x":1.095,"y":0.54},{"e":"f","x":1.117,"y":0.32},{"e":"f","x":1.128,"y":-0.1}],
"G1/C-L2": [
{"e":"s","x":0.02,"y":-1.7},{"e":"s","x":0.003,"y":-1.55},{"e":"s","x":-0.035,"y":-1.46},{"e":"s","x":-0.065,"y":-1.36},{"e":"s","x":-0.08,"y":-1.26},{"e":"s","x":-0.086,"y":-0.75},{"e":"s","x":-0.088,"y":0.25},{"e":"s","x":-0.084,"y":0.98},{"e":"s","x":-0.068,"y":0.71},{"e":"s","x":-0.048,"y":0.14},{"e":"s","x":-0.03,"y":-0.36},{"e":"s","x":-0.012,"y":-0.22},{"e":"s","x":0.002,"y":0.34},{"e":"s","x":0.013,"y":-0.64},{"e":"s","x":0.02,"y":-1.7},
{"e":"m","x":0.87,"y":-1.12},{"e":"m","x":0.858,"y":-1.38},{"e":"m","x":0.845,"y":-1.55},{"e":"m","x":0.7,"y":-1.58},{"e":"m","x":0.5,"y":-1.64},{"e":"m","x":0.35,"y":-1.87},{"e":"m","x":0.25,"y":-2.2},{"e":"m","x":0.2,"y":-2.58},{"e":"m","x":0.17,"y":-3.17},{"e":"m","x":0.15,"y":-3.72},{"e":"m","x":0.125,"y":-3.92},{"e":"m","x":0.095,"y":-4.38},{"e":"m","x":0.068,"y":-4.98},{"e":"m","x":0.052,"y":-5.42},{"e":"m","x":0.045,"y":-5.66},{"e":"m","x":0.048,"y":-1},{"e":"m","x":0.053,"y":0.35},{"e":"m","x":0.065,"y":0.84},{"e":"m","x":0.095,"y":1.04},{"e":"m","x":0.15,"y":0.92},{"e":"m","x":0.3,"y":0.65},{"e":"m","x":0.55,"y":0.54},{"e":"m","x":0.8,"y":0.66},{"e":"m","x":0.845,"y":0.83},{"e":"m","x":0.87,"y":0.64},{"e":"m","x":0.87,"y":-1.12},
{"e":"f","x":1.128,"y":-0.1},{"e":"f","x":1.11,"y":-0.18},{"e":"f","x":1.08,"y":-0.31},{"e":"f","x":1.05,"y":-0.6},{"e":"f","x":1.02,"y":-1.01},{"e":"f","x":0.99,"y":-1.55},{"e":"f","x":0.96,"y":-2.13},{"e":"f","x":0.93,"y":-2.67},{"e":"f","x":0.905,"y":-3.26},{"e":"f","x":0.89,"y":-3.67},{"e":"f","x":0.88,"y":-2.9},{"e":"f","x":0.875,"y":0.97},{"e":"f","x":0.9,"y":0.88},{"e":"f","x":0.96,"y":0.78},{"e":"f","x":1.04,"y":0.68},{"e":"f","x":1.095,"y":0.54},{"e":"f","x":1.117,"y":0.32},{"e":"f","x":1.128,"y":-0.1}],
"H1/C-L2": [
{"e":"s","x":0.02,"y":-1.58},{"e":"s","x":0.003,"y":-1.48},{"e":"s","x":-0.035,"y":-1.4},{"e":"s","x":-0.065,"y":-1.27},{"e":"s","x":-0.08,"y":-1.1},{"e":"s","x":-0.086,"y":-0.66},{"e":"s","x":-0.088,"y":0.25},{"e":"s","x":-0.084,"y":0.98},{"e":"s","x":-0.068,"y":0.7},{"e":"s","x":-0.048,"y":0.15},{"e":"s","x":-0.03,"y":-0.33},{"e":"s","x":-0.012,"y":-0.2},{"e":"s","x":0.002,"y":0.32},{"e":"s","x":0.013,"y":-0.62},{"e":"s","x":0.02,"y":-1.58},
{"e":"m","x":0.87,"y":-1.08},{"e":"m","x":0.858,"y":-1.3},{"e":"m","x":0.845,"y":-1.46},{"e":"m","x":0.7,"y":-1.5},{"e":"m","x":0.5,"y":-1.56},{"e":"m","x":0.35,"y":-1.78},{"e":"m","x":0.25,"y":-2.1},{"e":"m","x":0.2,"y":-2.48},{"e":"m","x":0.17,"y":-3.05},{"e":"m","x":0.15,"y":-3.57},{"e":"m","x":0.125,"y":-3.77},{"e":"m","x":0.095,"y":-4.2},{"e":"m","x":0.068,"y":-4.82},{"e":"m","x":0.052,"y":-5.3},{"e":"m","x":0.045,"y":-5.55},{"e":"m","x":0.048,"y":-1},{"e":"m","x":0.053,"y":0.35},{"e":"m","x":0.065,"y":0.83},{"e":"m","x":0.095,"y":1.03},{"e":"m","x":0.15,"y":0.91},{"e":"m","x":0.3,"y":0.64},{"e":"m","x":0.55,"y":0.53},{"e":"m","x":0.8,"y":0.65},{"e":"m","x":0.845,"y":0.8},{"e":"m","x":0.87,"y":0.63},{"e":"m","x":0.87,"y":-1.08},
{"e":"f","x":1.128,"y":-0.1},{"e":"f","x":1.11,"y":-0.16},{"e":"f","x":1.08,"y":-0.26},{"e":"f","x":1.05,"y":-0.47},{"e":"f","x":1.02,"y":-0.85},{"e":"f","x":0.99,"y":-1.3},{"e":"f","x":0.96,"y":-1.83},{"e":"f","x":0.93,"y":-2.36},{"e":"f","x":0.905,"y":-2.95},{"e":"f","x":0.89,"y":-3.15},{"e":"f","x":0.88,"y":-2.65},{"e":"f","x":0.875,"y":0.97},{"e":"f","x":0.9,"y":0.87},{"e":"f","x":0.96,"y":0.77},{"e":"f","x":1.04,"y":0.67},{"e":"f","x":1.095,"y":0.53},{"e":"f","x":1.117,"y":0.31},{"e":"f","x":1.128,"y":-0.1}],
"J1/J-L3": [
{"e":"s","x":0.02,"y":-1.45},{"e":"s","x":0.003,"y":-1.37},{"e":"s","x":-0.035,"y":-1.29},{"e":"s","x":-0.065,"y":-1.15},{"e":"s","x":-0.08,"y":-0.98},{"e":"s","x":-0.086,"y":-0.61},{"e":"s","x":-0.088,"y":0.25},{"e":"s","x":-0.084,"y":0.98},{"e":"s","x":-0.068,"y":0.67},{"e":"s","x":-0.048,"y":0.19},{"e":"s","x":-0.03,"y":-0.25},{"e":"s","x":-0.012,"y":-0.14},{"e":"s","x":0.002,"y":0.29},{"e":"s","x":0.013,"y":-0.58},{"e":"s","x":0.02,"y":-1.45},
{"e":"m","x":0.87,"y":-1.03},{"e":"m","x":0.858,"y":-1.2},{"e":"m","x":0.845,"y":-1.36},{"e":"m","x":0.7,"y":-1.39},{"e":"m","x":0.5,"y":-1.46},{"e":"m","x":0.35,"y":-1.68},{"e":"m","x":0.25,"y":-1.98},{"e":"m","x":0.2,"y":-2.33},{"e":"m","x":0.17,"y":-2.92},{"e":"m","x":0.15,"y":-3.38},{"e":"m","x":0.125,"y":-3.57},{"e":"m","x":0.095,"y":-3.97},{"e":"m","x":0.068,"y":-4.62},{"e":"m","x":0.052,"y":-5.12},{"e":"m","x":0.045,"y":-5.38},{"e":"m","x":0.048,"y":-1},{"e":"m","x":0.053,"y":0.35},{"e":"m","x":0.065,"y":0.81},{"e":"m","x":0.095,"y":1.01},{"e":"m","x":0.15,"y":0.89},{"e":"m","x":0.3,"y":0.61},{"e":"m","x":0.55,"y":0.5},{"e":"m","x":0.8,"y":0.62},{"e":"m","x":0.845,"y":0.76},{"e":"m","x":0.87,"y":0.61},{"e":"m","x":0.87,"y":-1.03},
{"e":"f","x":1.128,"y":-0.1},{"e":"f","x":1.11,"y":-0.14},{"e":"f","x":1.08,"y":-0.21},{"e":"f","x":1.05,"y":-0.38},{"e":"f","x":1.02,"y":-0.71},{"e":"f","x":0.99,"y":-1.1},{"e":"f","x":0.96,"y":-1.58},{"e":"f","x":0.93,"y":-2.1},{"e":"f","x":0.905,"y":-2.62},{"e":"f","x":0.89,"y":-2.9},{"e":"f","x":0.88,"y":-2.45},{"e":"f","x":0.875,"y":0.97},{"e":"f","x":0.9,"y":0.85},{"e":"f","x":0.96,"y":0.74},{"e":"f","x":1.04,"y":0.64},{"e":"f","x":1.095,"y":0.5},{"e":"f","x":1.117,"y":0.29},{"e":"f","x":1.128,"y":-0.1}],
"EXP": [
{"x":-0.082,"y":-0.45},{"x":-0.082,"y":-0.16},{"x":-0.082,"y":0.54},{"x":-0.078,"y":0.99},{"x":-0.069,"y":0.74},{"x":-0.061,"y":0.32},{"x":-0.041,"y":-0.47},{"x":-0.026,"y":-0.55},{"x":-0.011,"y":-0.49},{"x":-0.003,"y":-0.31},{"x":-0.03,"y":-0.17},{"x":-0.037,"y":0.08},{"x":0.005,"y":0.01},{"x":0.012,"y":0.03},{"x":-0.078,"y":-1.05},{"x":-0.068,"y":-1.25},{"x":-0.047,"y":-1.35},{"x":-0.007,"y":-1.49},{"x":0.015,"y":-1.61},{"x":0.017,"y":-0.85},
{"x":0.045,"y":-5.65},{"x":0.053,"y":-5.51},{"x":0.07,"y":-4.93},{"x":0.089,"y":-4.48},{"x":0.112,"y":-3.96},{"x":0.153,"y":-3.67},{"x":0.173,"y":-3.07},{"x":0.207,"y":-2.54},{"x":0.251,"y":-2.22},{"x":0.319,"y":-1.96},{"x":0.402,"y":-1.79},{"x":0.5,"y":-1.65},{"x":0.596,"y":-1.57},{"x":0.733,"y":-1.53},{"x":0.84,"y":-1.48},{"x":0.856,"y":-1.43},{"x":0.047,"y":-4.18},{"x":0.048,"y":-1.98},{"x":0.06,"y":0.56},{"x":0.077,"y":0.93},{"x":0.102,"y":0.99},{"x":0.128,"y":0.94},{"x":0.211,"y":0.75},{"x":0.334,"y":0.59},{"x":0.451,"y":0.51},{"x":0.617,"y":0.54},{"x":0.767,"y":0.62},{"x":0.857,"y":0.65},{"x":0.871,"y":0.63},
{"x":0.872,"y":-0.72},{"x":0.876,"y":0.97},{"x":0.883,"y":-3},{"x":0.886,"y":-3.34},{"x":0.901,"y":-3.17},{"x":0.941,"y":-2.11},{"x":0.986,"y":-1.28},{"x":1.024,"y":-0.7},{"x":1.053,"y":-0.35},{"x":1.094,"y":-0.17},{"x":1.121,"y":-0.16},{"x":1.131,"y":-0.1},{"x":0.925,"y":0.8},{"x":1.028,"y":0.68},{"x":1.104,"y":0.46}]
},
"layer": [
{"data": {"name": "A2/J-L2"}, "mark": "line", "encoding": {"color": {"datum": "A2/J-L2",
 "scale": {"domain": ["EXP","A2/J-L2","A2/J-L3","A3/J-L2","A3/J-L3","A4/J-L3","A5/J-L3","A6/J-L2","A6/J-L3","A7/J-L2","A7/J-L3","A8/J-L2","B1/J-L3","B2/J-L3","B3/J-L3","C1/J-L2","D1/C-L2","E1/J-L1","E1/J-L2","E1/J-L3","E2/C-L2","E2/C-L3","G1/C-L2","H1/C-L2","J1/J-L3"],
  "range": ["#000000","#b39fd1","#8b97d1","#7e7e35","#3a9b6b","#163a1c","#a65aa8","#fdc69b","#f4642d","#f59bc4","#963766","#f3e934","#f7952f","#8e3a2c","#65286b","#ef2b32","#2d5ca6","#c8e3c8","#68bd45","#98c83c","#67699f","#3b419a","#34c3f0","#23807c","#939393"]},
 "legend": {"title": null, "orient": "none", "legendX": 857, "legendY": -97, "direction": "vertical", "symbolLimit": 30, "symbolStrokeWidth": 0.5,
  "symbolType": {"expr": "datum.value === 'EXP' ? 'M-1.5,-0.1L1.5,-0.1L1.5,0.1L-1.5,0.1ZM-0.7,0A0.7,0.7,0,1,1,0.7,0A0.7,0.7,0,1,1,-0.7,0Z' : 'M-1.5,-0.1L1.5,-0.1L1.5,0.1L-1.5,0.1ZM-0.55,-0.55L0.55,-0.55L0.55,0.55L-0.55,0.55Z'"},
  "encode": {"symbols": {"fill": {"value": {"expr": "scale('color', datum.value)"}}}}}}}},
{"data": {"name": "A2/J-L3"}, "mark": "line", "encoding": {"color": {"datum": "A2/J-L3"}}},
{"data": {"name": "A3/J-L2"}, "mark": "line", "encoding": {"color": {"datum": "A3/J-L2"}}},
{"data": {"name": "A3/J-L3"}, "mark": "line", "encoding": {"color": {"datum": "A3/J-L3"}}},
{"data": {"name": "A4/J-L3"}, "mark": "line", "encoding": {"color": {"datum": "A4/J-L3"}}},
{"data": {"name": "A5/J-L3"}, "mark": "line", "encoding": {"color": {"datum": "A5/J-L3"}}},
{"data": {"name": "A6/J-L2"}, "mark": "line", "encoding": {"color": {"datum": "A6/J-L2"}}},
{"data": {"name": "A6/J-L3"}, "mark": "line", "encoding": {"color": {"datum": "A6/J-L3"}}},
{"data": {"name": "A7/J-L2"}, "mark": "line", "encoding": {"color": {"datum": "A7/J-L2"}}},
{"data": {"name": "A7/J-L3"}, "mark": "line", "encoding": {"color": {"datum": "A7/J-L3"}}},
{"data": {"name": "A8/J-L2"}, "mark": "line", "encoding": {"color": {"datum": "A8/J-L2"}}},
{"data": {"name": "B1/J-L3"}, "mark": "line", "encoding": {"color": {"datum": "B1/J-L3"}}},
{"data": {"name": "B2/J-L3"}, "mark": "line", "encoding": {"color": {"datum": "B2/J-L3"}}},
{"data": {"name": "B3/J-L3"}, "mark": "line", "encoding": {"color": {"datum": "B3/J-L3"}}},
{"data": {"name": "C1/J-L2"}, "mark": "line", "encoding": {"color": {"datum": "C1/J-L2"}}},
{"data": {"name": "D1/C-L2"}, "mark": "line", "encoding": {"color": {"datum": "D1/C-L2"}}},
{"data": {"name": "E1/J-L1"}, "mark": "line", "encoding": {"color": {"datum": "E1/J-L1"}}},
{"data": {"name": "E1/J-L2"}, "mark": "line", "encoding": {"color": {"datum": "E1/J-L2"}}},
{"data": {"name": "E1/J-L3"}, "mark": "line", "encoding": {"color": {"datum": "E1/J-L3"}}},
{"data": {"name": "E2/C-L2"}, "mark": "line", "encoding": {"color": {"datum": "E2/C-L2"}}},
{"data": {"name": "E2/C-L3"}, "mark": "line", "encoding": {"color": {"datum": "E2/C-L3"}}},
{"data": {"name": "G1/C-L2"}, "mark": "line", "encoding": {"color": {"datum": "G1/C-L2"}}},
{"data": {"name": "H1/C-L2"}, "mark": "line", "encoding": {"color": {"datum": "H1/C-L2"}}},
{"data": {"name": "J1/J-L3"}, "mark": "line", "encoding": {"color": {"datum": "J1/J-L3"}}},
{"data": {"name": "EXP"}, "mark": {"type": "point", "filled": true, "size": 150, "opacity": 1, "strokeWidth": 0}, "encoding": {"color": {"datum": "EXP", "legend": null}}}
]
}
